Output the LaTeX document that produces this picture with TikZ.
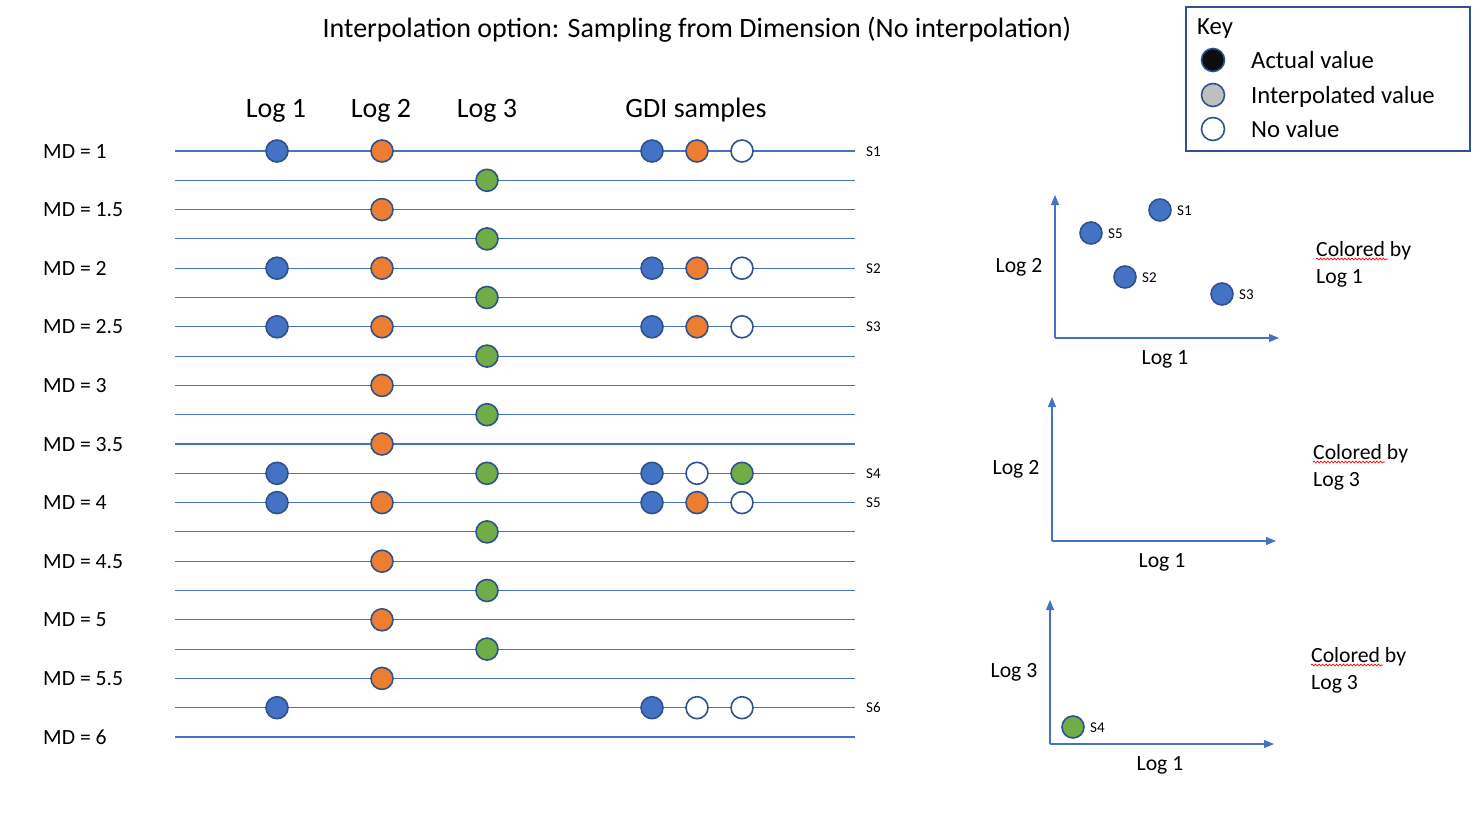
\documentclass[tikz,border=0pt]{standalone}
\usepackage{fontspec}
\setmainfont{Carlito}
\usetikzlibrary{arrows.meta,decorations.pathmorphing}
\definecolor{lblue}{HTML}{4472C4}
\definecolor{dblue}{HTML}{2F528F}
\definecolor{orng}{HTML}{ED7D31}
\definecolor{grn}{HTML}{70AD47}
\definecolor{keyblk}{HTML}{0D0D0D}
\definecolor{keygry}{HTML}{BFBFBF}
\tikzset{
  dot/.style={circle, draw=dblue, line width=1.6pt, minimum size=22pt, inner sep=0pt},
  bdot/.style={dot, fill=lblue},
  odot/.style={dot, fill=orng},
  gdot/.style={dot, fill=grn},
  wdot/.style={dot, fill=white},
  track/.style={draw=lblue, line width=1.1pt},
  axis/.style={draw=lblue, line width=1.2pt, -{Triangle[length=10pt,width=8pt]}},
  txt/.style={inner sep=0pt, anchor=base west},
  ctxt/.style={inner sep=0pt, anchor=base},
  small/.style={font=\fontsize{15}{17}\selectfont},
  mid/.style={font=\fontsize{21.7}{25}\selectfont},
  big/.style={font=\fontsize{28}{32}\selectfont},
  keyf/.style={font=\fontsize{24.7}{28}\selectfont},
  spell/.style={draw=red, line width=0.7pt, decorate, decoration={snake, amplitude=0.9pt, segment length=3.5pt}}
}
\begin{document}
\begin{tikzpicture}[x=1pt,y=-1pt]
\useasboundingbox (0,0) rectangle (1481,828);
% title
\node[ctxt,big] (title) at (697,37.5) {Interpolation option: Sampling from Dimension (No interpolation)};
% headers
\node[ctxt,big] (h1) at (276,117) {Log 1};
\node[ctxt,big] (h2) at (381,117) {Log 2};
\node[ctxt,big] (h3) at (487,117) {Log 3};
\node[ctxt,big] (h4) at (696,117) {GDI samples};
% tracks
\foreach \i in {0,...,20}{
  \pgfmathsetmacro{\yy}{151+29.3*\i}
  \coordinate (L\i) at (175,\yy);
  \coordinate (R\i) at (855,\yy);
  \draw[track] (L\i) -- (R\i);
}
% MD labels
\foreach \lab [count=\k from 0] in {1,1.5,2,2.5,3,3.5,4,4.5,5,5.5,6}{
  \pgfmathsetmacro{\yy}{151+29.3*2*\k+7}
  \node[txt,mid] (md\k) at (43,\yy) {MD = \lab};
}
% Log 1 dots
\foreach \i in {0,4,6,11,12,19}{
  \node[bdot] (a\i) at (277,{151+29.3*\i}) {};
}
% Log 2 dots
\foreach \i in {0,2,...,18}{
  \node[odot] (b\i) at (382,{151+29.3*\i}) {};
}
% Log 3 dots
\foreach \i in {1,3,...,17}{
  \node[gdot] (c\i) at (487,{151+29.3*\i}) {};
}
% GDI samples
\foreach \i/\s/\t/\u/\lab in {0/bdot/odot/wdot/S1, 4/bdot/odot/wdot/S2, 6/bdot/odot/wdot/S3, 11/bdot/wdot/gdot/S4, 12/bdot/odot/wdot/S5, 19/bdot/wdot/wdot/S6}{
  \node[\s] (g\i a) at (652,{151+29.3*\i}) {};
  \node[\t] (g\i b) at (697,{151+29.3*\i}) {};
  \node[\u] (g\i c) at (742,{151+29.3*\i}) {};
  \node[txt,small] (s\i) at (866,{151+29.3*\i+5}) {\lab};
}
% key
\node[draw=dblue, line width=1.6pt, minimum width=284pt, minimum height=144pt, anchor=north west, inner sep=0pt] (keybox) at (1185,6) {};
\node[txt,keyf] (keyt) at (1197,34) {Key};
\node[dot, fill=keyblk, minimum size=23pt] (k1) at (1213,60) {};
\node[dot, fill=keygry, minimum size=23pt] (k2) at (1213,95) {};
\node[dot, fill=white, minimum size=23pt] (k3) at (1213,129) {};
\node[txt,keyf] (k1t) at (1251,68.5) {Actual value};
\node[txt,keyf] (k2t) at (1251,103) {Interpolated value};
\node[txt,keyf] (k3t) at (1251,137.5) {No value};
% plot 1
\coordinate (p1o) at (1055,338);
\coordinate (p1y) at (1055,195);
\coordinate (p1x) at (1279,338);
\draw[axis] (p1o) -- (p1y);
\draw[axis] (p1o) -- (p1x);
\node[ctxt,mid] (p1yl) at (1019,272) {Log 2};
\node[ctxt,mid] (p1xl) at (1165,364) {Log 1};
\node[bdot] (q1) at (1160,210) {};
\node[bdot] (q5) at (1091,233) {};
\node[bdot] (q2) at (1125,277) {};
\node[bdot] (q3) at (1222,294) {};
\node[txt,small] (q1l) at (1177,215.5) {S1};
\node[txt,small] (q5l) at (1108,238.5) {S5};
\node[txt,small] (q2l) at (1142,282.5) {S2};
\node[txt,small] (q3l) at (1239,299.5) {S3};
\node[txt,mid] (c1a) at (1316,256.5) {Colored by};
\node[txt,mid] (c1b) at (1316,283.5) {Log 1};
\draw[spell] (1316,259) -- (1388,259);
% plot 2
\coordinate (p2o) at (1052,541);
\coordinate (p2y) at (1052,397);
\coordinate (p2x) at (1276,541);
\draw[axis] (p2o) -- (p2y);
\draw[axis] (p2o) -- (p2x);
\node[ctxt,mid] (p2yl) at (1016,474) {Log 2};
\node[ctxt,mid] (p2xl) at (1162,567) {Log 1};
\node[txt,mid] (c2a) at (1313,459.5) {Colored by};
\node[txt,mid] (c2b) at (1313,486.5) {Log 3};
\draw[spell] (1313,462) -- (1385,462);
% plot 3
\coordinate (p3o) at (1050,744);
\coordinate (p3y) at (1050,600);
\coordinate (p3x) at (1274,744);
\draw[axis] (p3o) -- (p3y);
\draw[axis] (p3o) -- (p3x);
\node[ctxt,mid] (p3yl) at (1014,677) {Log 3};
\node[ctxt,mid] (p3xl) at (1160,770) {Log 1};
\node[gdot] (q4) at (1073,727) {};
\node[txt,small] (q4l) at (1090,732.5) {S4};
\node[txt,mid] (c3a) at (1311,662.5) {Colored by};
\node[txt,mid] (c3b) at (1311,689.5) {Log 3};
\draw[spell] (1311,665) -- (1383,665);
\end{tikzpicture}
\end{document}
